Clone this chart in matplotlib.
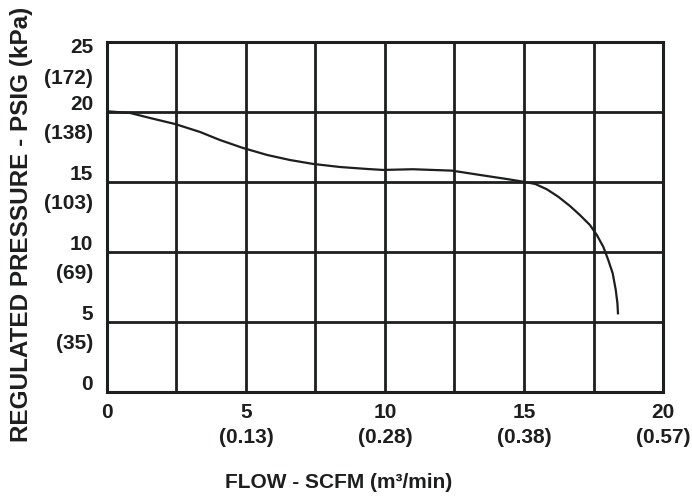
import matplotlib.pyplot as plt
import numpy as np

# flow (SCFM) vs regulated pressure (PSIG)
flow = [0.0, 0.83, 1.55, 2.45, 3.35, 4.06, 4.89, 5.76, 6.58, 7.41, 8.38,
        9.35, 9.93, 11.0, 12.41, 13.42, 14.39, 14.97, 15.40, 15.82, 16.23,
        16.65, 17.01, 17.37, 17.62, 17.85, 18.03, 18.19, 18.30, 18.36, 18.38]
pressure = [20.05, 19.93, 19.57, 19.14, 18.57, 18.0, 17.43, 16.93, 16.57,
            16.29, 16.07, 15.93, 15.86, 15.91, 15.81, 15.5, 15.21, 15.02,
            14.86, 14.48, 13.95, 13.29, 12.64, 11.93, 11.21, 10.38, 9.43,
            8.48, 7.29, 6.34, 5.62]

x_ticks = [0, 5, 10, 15, 20]
x_metric = ["", "(0.13)", "(0.28)", "(0.38)", "(0.57)"]
y_ticks = [0, 5, 10, 15, 20, 25]
y_metric = ["", "(35)", "(69)", "(103)", "(138)", "(172)"]

ink = "#1c1f1e"
plt.rcParams["font.family"] = ["Liberation Sans", "DejaVu Sans"]
plt.rcParams["font.weight"] = "bold"

fig = plt.figure(figsize=(6.92, 4.98), dpi=100)
ax = fig.add_axes([0.1546, 0.2129, 0.8035, 0.7028])

ax.set_xlim(0, 20)
ax.set_ylim(0, 25)
ax.set_xticks(np.arange(0, 20.1, 2.5))
ax.set_yticks(np.arange(0, 25.1, 5))
ax.grid(True, color=ink, linewidth=2.0)
ax.tick_params(length=0, labelbottom=False, labelleft=False)
for s in ax.spines.values():
    s.set_color(ink)
    s.set_linewidth(2.2)

ax.plot(flow, pressure, color=ink, linewidth=1.6)

fs = 15
lab = dict(textcoords="offset points", fontsize=fs, fontweight="bold",
           color=ink, annotation_clip=False, va="center")
for v, m in zip(x_ticks, x_metric):
    ax.annotate(str(v), (v, 0), xytext=(0, -14.5), ha="center", **lab)
    if m:
        ax.annotate(m, (v, 0), xytext=(0, -33), ha="center", **lab)

for v, m in zip(y_ticks, y_metric):
    # the top label pair sits below its grid line in the original
    dy_num, dy_met = (-4.3, -26) if v == 25 else (5.5, -15.5)
    ax.annotate(str(v), (0, v), xytext=(-10, dy_num), ha="right", **lab)
    if m:
        ax.annotate(m, (0, v), xytext=(-10, dy_met), ha="right", **lab)

fig.text(0.031, 0.55, "REGULATED PRESSURE - PSIG (kPa)", rotation=90,
         ha="center", va="center", fontsize=17.5, fontweight="bold", color=ink)
fig.text(0.49, 0.032, "FLOW - SCFM (m³/min)", ha="center", va="center",
         fontsize=15, fontweight="bold", color=ink)

fig.savefig("out.png", dpi=100)
